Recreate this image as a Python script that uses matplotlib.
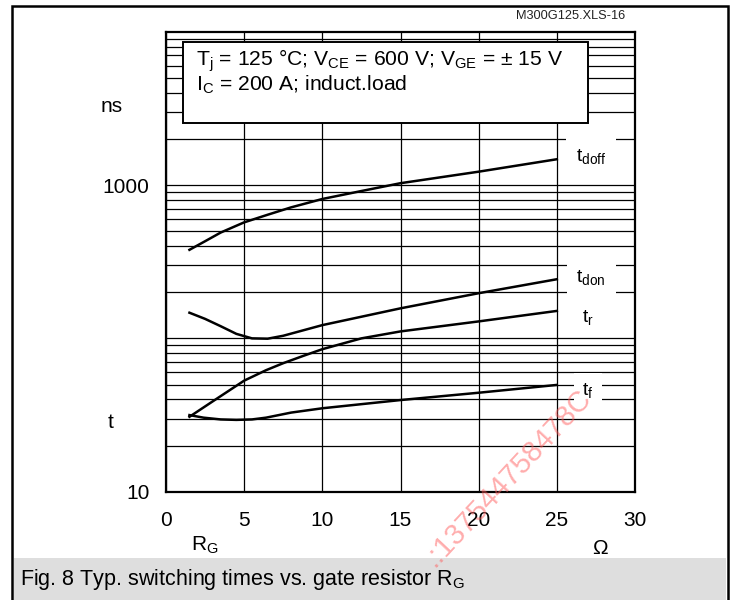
import matplotlib
matplotlib.use("Agg")
import matplotlib.pyplot as plt
from matplotlib.patches import Rectangle

plt.rcParams['font.family'] = ['Liberation Sans', 'DejaVu Sans']

# gate resistor R_G [Ohm] and switching times [ns]
rg_doff = [1.5, 2.5, 3.5, 5.0, 6.5, 8.0, 10.0, 12.5, 15.0, 20.0, 25.0]
t_doff = [378, 430, 490, 571, 640, 715, 811, 914, 1028, 1222, 1473]

rg_don = [1.5, 2.5, 3.5, 4.5, 5.5, 6.5, 7.5, 10.0, 15.0, 20.0, 25.0]
t_don = [147, 134, 120, 107, 100, 99.5, 104, 122, 157, 197, 243]

rg_r = [1.5, 3.0, 5.0, 6.4, 7.5, 8.8, 10.0, 12.5, 15.0, 20.0, 25.0]
t_r = [30.8, 38.9, 53, 62, 68.9, 77, 85, 100, 111, 129, 151]

rg_f = [1.5, 2.4, 3.5, 4.5, 5.5, 6.4, 8.0, 10.0, 15.0, 20.0, 25.0]
t_f = [31.6, 30.4, 29.6, 29.4, 29.6, 30.4, 32.8, 35, 39.6, 44.2, 49.7]

x_ticks = [0, 5, 10, 15, 20, 25, 30]
y_ticks = [10, 1000]
y_grid = [m * 10 ** d for d in (1, 2, 3) for m in range(2, 10)] + [100]

fig = plt.figure(figsize=(7.36, 6), dpi=100)
fig.patch.set_facecolor('white')

# outer frame and caption band
fig.patches.append(Rectangle((12 / 736, -0.05), 716 / 736, 1.05 - 6 / 600,
                             transform=fig.transFigure, fill=False,
                             edgecolor='black', linewidth=1.8, zorder=0))
fig.patches.append(Rectangle((14 / 736, 0), 712 / 736, 42 / 600,
                             transform=fig.transFigure, facecolor='#dedede',
                             edgecolor='none', zorder=0))

ax = fig.add_axes([166 / 736, 108.3 / 600, 469 / 736, 460 / 600])
ax.set_yscale('log')
ax.set_xlim(0, 30)
ax.set_ylim(10, 10000)

ax.set_xticks(x_ticks)
ax.set_xticklabels([str(v) for v in x_ticks])
ax.set_yticks(y_ticks)
ax.set_yticklabels(['10', '1000'])
ax.set_yticks(y_grid, minor=True)
ax.yaxis.set_minor_formatter(matplotlib.ticker.NullFormatter())
ax.tick_params(which='both', length=0, labelsize=15)
ax.tick_params(axis='x', pad=14)
ax.tick_params(axis='y', pad=12)
ax.grid(True, which='major', axis='x', color='black', linewidth=0.9)
ax.grid(True, which='both', axis='y', color='black', linewidth=0.9)
for sp in ax.spines.values():
    sp.set_linewidth(1.6)

for xs, ys in [(rg_doff, t_doff), (rg_don, t_don), (rg_r, t_r), (rg_f, t_f)]:
    ax.plot(xs, ys, color='black', linewidth=1.8, zorder=3)

# curve names
ax.text(27.2, 1524, r'$\mathregular{t_{doff}}$', fontsize=14, ha='center',
        va='center', zorder=4,
        bbox=dict(facecolor='white', edgecolor='none', pad=7))
ax.text(27.2, 248, r'$\mathregular{t_{don}}$', fontsize=14, ha='center',
        va='center', zorder=4,
        bbox=dict(facecolor='white', edgecolor='none', pad=7))
ax.text(27.0, 136, r'$\mathregular{t_r}$', fontsize=14, ha='center',
        va='center', zorder=4,
        bbox=dict(facecolor='white', edgecolor='none', pad=4))
ax.text(27.0, 45.4, r'$\mathregular{t_f}$', fontsize=14, ha='center',
        va='center', zorder=4,
        bbox=dict(facecolor='white', edgecolor='none', pad=6))

# test conditions box
ax.add_patch(Rectangle((0.0362, 0.8015), 0.8636, 0.1761, transform=ax.transAxes,
                       facecolor='white', edgecolor='black', linewidth=1.4,
                       zorder=5))
ax.text(0.064, 0.938,
        r'T$_\mathregular{j}$ = 125 °C; V$_\mathregular{CE}$ = 600 V; '
        r'V$_\mathregular{GE}$ = ± 15 V',
        transform=ax.transAxes, fontsize=15.2, va='center', zorder=6)
ax.text(0.064, 0.884, r'I$_\mathregular{C}$ = 200 A; induct.load',
        transform=ax.transAxes, fontsize=15.2, va='center', zorder=6)

# axis names
fig.text(112 / 736, 1 - 107 / 600, 'ns', fontsize=15, ha='center', va='center')
fig.text(111 / 736, 1 - 423 / 600, 't', fontsize=15, ha='center', va='center')
fig.text(205 / 736, 1 - 545 / 600, r'R$_\mathregular{G}$', fontsize=15,
         ha='center', va='center')
fig.text(600 / 736, 1 - 548 / 600, 'Ω', fontsize=15, ha='center', va='center')

fig.text(625 / 736, 1 - 16 / 600, 'M300G125.XLS-16', fontsize=9.2,
         ha='right', va='center', color='#222222')
fig.text(20 / 736, 1 - 580 / 600,
         r'Fig. 8 Typ. switching times vs. gate resistor R$_\mathregular{G}$',
         fontsize=15.5, ha='left', va='center')

# shop watermark
fig.text(507 / 736, 1 - 478 / 600, '.:137544758478C', fontsize=21,
         color='#ff5c5c', alpha=0.5, rotation=47, ha='center', va='center',
         zorder=10)

fig.savefig('out.png', dpi=100)
